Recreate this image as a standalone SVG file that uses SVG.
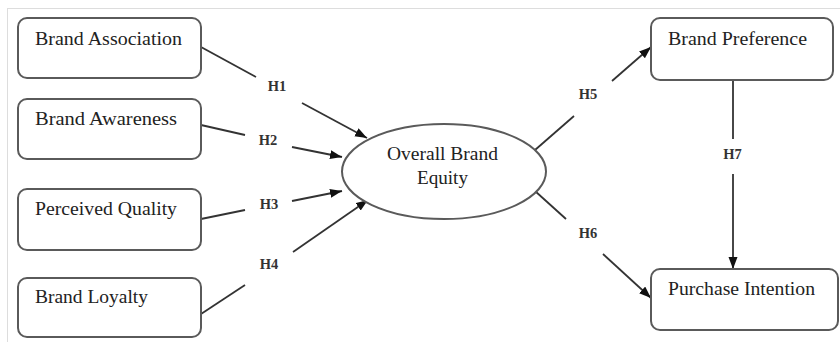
<svg xmlns="http://www.w3.org/2000/svg" width="840" height="342" viewBox="0 0 840 342">
<style>
.box{fill:#fff;stroke:#5a5a5a;stroke-width:2}
.t{font-family:"Liberation Serif","Times New Roman",serif;font-size:19px;fill:#222}
.lab{font-family:"Liberation Serif","Times New Roman",serif;font-size:14.5px;font-weight:bold;fill:#333;text-anchor:middle}
.ln{stroke:#333;stroke-width:1.8;fill:none}
</style>
<defs>
<marker id="arr" markerUnits="userSpaceOnUse" markerWidth="13" markerHeight="10" refX="12" refY="4.5" orient="auto">
<path d="M0,0 L12,4.5 L0,9 z" fill="#111"/>
</marker>
</defs>
<rect x="0" y="0" width="840" height="342" fill="#fff"/>
<line x1="7" y1="8.5" x2="840" y2="8.5" stroke="#ddd" stroke-width="1"/>
<line x1="7.5" y1="8" x2="7.5" y2="342" stroke="#ddd" stroke-width="1"/>

<g id="connectors">
<line class="ln" x1="201" y1="47" x2="256" y2="77"/>
<line class="ln" x1="302" y1="103" x2="367" y2="138" marker-end="url(#arr)"/>
<line class="ln" x1="201" y1="125" x2="245" y2="135"/>
<line class="ln" x1="292" y1="147" x2="342" y2="157" marker-end="url(#arr)"/>
<line class="ln" x1="201" y1="219" x2="245" y2="210"/>
<line class="ln" x1="292" y1="201" x2="342" y2="191" marker-end="url(#arr)"/>
<line class="ln" x1="201" y1="314" x2="245" y2="285"/>
<line class="ln" x1="293" y1="252" x2="368" y2="200" marker-end="url(#arr)"/>
<line class="ln" x1="535" y1="150" x2="574" y2="116"/>
<line class="ln" x1="612" y1="81" x2="651" y2="47" marker-end="url(#arr)"/>
<line class="ln" x1="535" y1="191" x2="566" y2="219"/>
<line class="ln" x1="603" y1="254" x2="651" y2="298" marker-end="url(#arr)"/>
<line class="ln" x1="733" y1="80" x2="733" y2="139"/>
<line class="ln" x1="733" y1="174" x2="733" y2="269" marker-end="url(#arr)"/>
<text class="lab" x="277" y="91">H1</text>
<text class="lab" x="268" y="145">H2</text>
<text class="lab" x="269" y="209">H3</text>
<text class="lab" x="269" y="269">H4</text>
<text class="lab" x="588" y="99">H5</text>
<text class="lab" x="588" y="238">H6</text>
<text class="lab" x="732.5" y="159">H7</text>
</g>

<g id="brand-association">
<rect class="box" x="18" y="18" width="183" height="60" rx="9"/>
<text class="t" x="35" y="45" textLength="147" lengthAdjust="spacingAndGlyphs">Brand Association</text>
</g>
<g id="brand-awareness">
<rect class="box" x="18" y="99" width="183" height="60" rx="9"/>
<text class="t" x="35" y="125" textLength="142" lengthAdjust="spacingAndGlyphs">Brand Awareness</text>
</g>
<g id="perceived-quality">
<rect class="box" x="18" y="189" width="183" height="61" rx="9"/>
<text class="t" x="35" y="215" textLength="142" lengthAdjust="spacingAndGlyphs">Perceived Quality</text>
</g>
<g id="brand-loyalty">
<rect class="box" x="18" y="278" width="183" height="59" rx="9"/>
<text class="t" x="35" y="303" textLength="113" lengthAdjust="spacingAndGlyphs">Brand Loyalty</text>
</g>
<g id="overall-brand-equity">
<ellipse cx="444" cy="171.5" rx="102" ry="47.5" fill="#fff" stroke="#5a5a5a" stroke-width="2"/>
<text class="t" x="387" y="160" textLength="111" lengthAdjust="spacingAndGlyphs">Overall Brand</text>
<text class="t" x="417" y="184" textLength="51" lengthAdjust="spacingAndGlyphs">Equity</text>
</g>
<g id="brand-preference">
<rect class="box" x="651" y="18" width="182" height="62" rx="9"/>
<text class="t" x="668" y="45" textLength="139" lengthAdjust="spacingAndGlyphs">Brand Preference</text>
</g>
<g id="purchase-intention">
<rect class="box" x="651" y="269" width="187" height="61" rx="9"/>
<text class="t" x="668" y="295" textLength="147" lengthAdjust="spacingAndGlyphs">Purchase Intention</text>
</g>
</svg>
